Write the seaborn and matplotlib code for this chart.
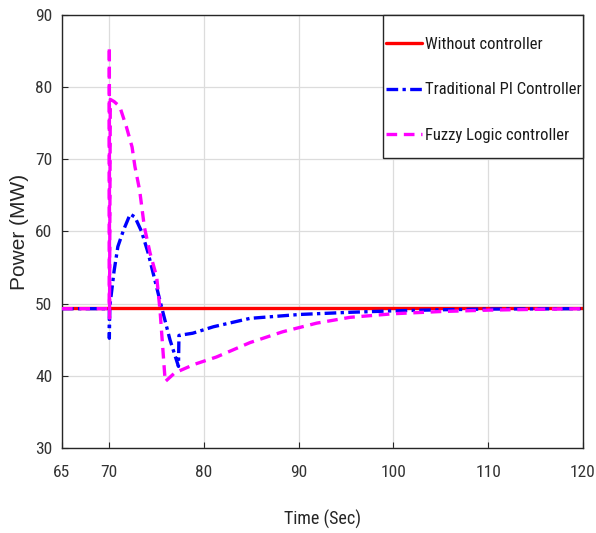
import matplotlib
matplotlib.use("Agg")
import matplotlib.pyplot as plt
from matplotlib import font_manager
from matplotlib.patches import Rectangle
import seaborn as sns
import pandas as pd

# ---- data ----
t_none = [65, 120]
p_none = [49.35, 49.35]

t_pi = [65, 70.0, 70.0, 70.05, 70.5, 70.9, 71.5, 72.2, 72.7, 73.4, 74.1, 74.8, 75.5,
        76.4, 77.3, 77.35, 78.8, 81.0, 84.85, 90.1, 95.4, 100, 105, 110, 120]
p_pi = [49.3, 49.3, 45.2, 49.6, 54.5, 57.9, 60.2, 62.4, 62.0, 60.0, 57.0, 53.3, 49.6,
        45.0, 41.3, 45.6, 45.9, 46.8, 47.96, 48.5, 48.8, 49.0, 49.15, 49.25, 49.3]

t_fuzzy = [65, 70.0, 70.0, 70.02, 70.1, 70.5, 71.1, 71.8, 72.4, 72.7, 73.2, 73.7, 74.3,
           75.0, 75.35, 75.9, 76.9, 77.25, 79.0, 81.3, 84.85, 88.3, 91.9, 95.4, 100,
           104.9, 110, 114.7, 120]
p_fuzzy = [49.3, 49.3, 85.6, 48.0, 78.3, 78.0, 77.3, 74.5, 71.7, 69.0, 65.7, 60.6, 57.0,
           53.7, 49.1, 39.2, 40.4, 40.6, 41.6, 42.6, 44.6, 46.1, 47.3, 48.1, 48.6,
           48.9, 49.1, 49.2, 49.3]

labels = ["Without controller", "Traditional PI Controller", "Fuzzy Logic controller"]
colors = ["#ff0000", "#0000ff", "#ff00ff"]
x_ticks = [65, 70, 80, 90, 100, 110, 120]
y_ticks = [30, 40, 50, 60, 70, 80, 90]

sns.set_theme(style="whitegrid")


def pick_font(cands):
    for c in cands:
        try:
            font_manager.findfont(c, fallback_to_default=False)
            return c
        except Exception:
            pass
    return "DejaVu Sans"


narrow = pick_font(["Liberation Sans Narrow", "Arial Narrow", "Roboto Condensed",
                    "Liberation Sans"])
regular = pick_font(["Liberation Sans", "Arial"])
plt.rcParams["font.family"] = [narrow, "DejaVu Sans"]

fig = plt.figure(figsize=(5.96, 5.33), dpi=100)
ax = fig.add_axes([0.104, 0.1595, 0.874, 0.8125])

df_none = pd.DataFrame({"t": t_none, "p": p_none})
df_pi = pd.DataFrame({"t": t_pi, "p": p_pi})
df_fz = pd.DataFrame({"t": t_fuzzy, "p": p_fuzzy})

sns.lineplot(data=df_none, x="t", y="p", ax=ax, color=colors[0], lw=2.4,
             estimator=None, sort=False, label=labels[0], zorder=2)
sns.lineplot(data=df_pi, x="t", y="p", ax=ax, color=colors[1], lw=2.4,
             estimator=None, sort=False, label=labels[1], zorder=3,
             linestyle=(0, (3.5, 1.3, 1, 1.3)))
sns.lineplot(data=df_fz, x="t", y="p", ax=ax, color=colors[2], lw=2.4,
             estimator=None, sort=False, label=labels[2], zorder=4,
             linestyle=(0, (3.2, 2.0)))

ax.set_xlim(65, 120)
ax.set_ylim(30, 90)
ax.set_xticks(x_ticks)
ax.set_yticks(y_ticks)
ax.grid(True, color="#dcdcdc", lw=0.9)
ax.set_facecolor("white")
for s in ax.spines.values():
    s.set_visible(True)
    s.set_color("#262626")
    s.set_linewidth(1.0)
ax.tick_params(axis="both", direction="in", length=4, width=0.8, color="#262626",
               labelsize=12.5, labelcolor="#333333", left=True, bottom=True)
ax.tick_params(axis="x", pad=12)
ax.tick_params(axis="y", pad=7)

ax.set_xlabel("Time (Sec)", fontsize=13, color="#262626", labelpad=22)
ax.set_ylabel("Power (MW)", fontsize=15, color="#262626", labelpad=4,
              family=[regular, "DejaVu Sans"])

# legend frame (box) drawn in axes coordinates
ax.add_patch(Rectangle((0.616, 0.670), 0.384, 0.330, transform=ax.transAxes,
                       facecolor="white", edgecolor="#262626", lw=1.0,
                       zorder=5, clip_on=False))
leg = ax.legend(loc="upper left", bbox_to_anchor=(0.622, 0.950), fontsize=12,
                frameon=False, borderaxespad=0, borderpad=0, handlelength=2.15,
                handletextpad=0.2, labelspacing=1.85)
leg.set_zorder(6)
for txt in leg.get_texts():
    txt.set_color("#1a1a1a")

fig.savefig("out.png", dpi=100, facecolor="white")
